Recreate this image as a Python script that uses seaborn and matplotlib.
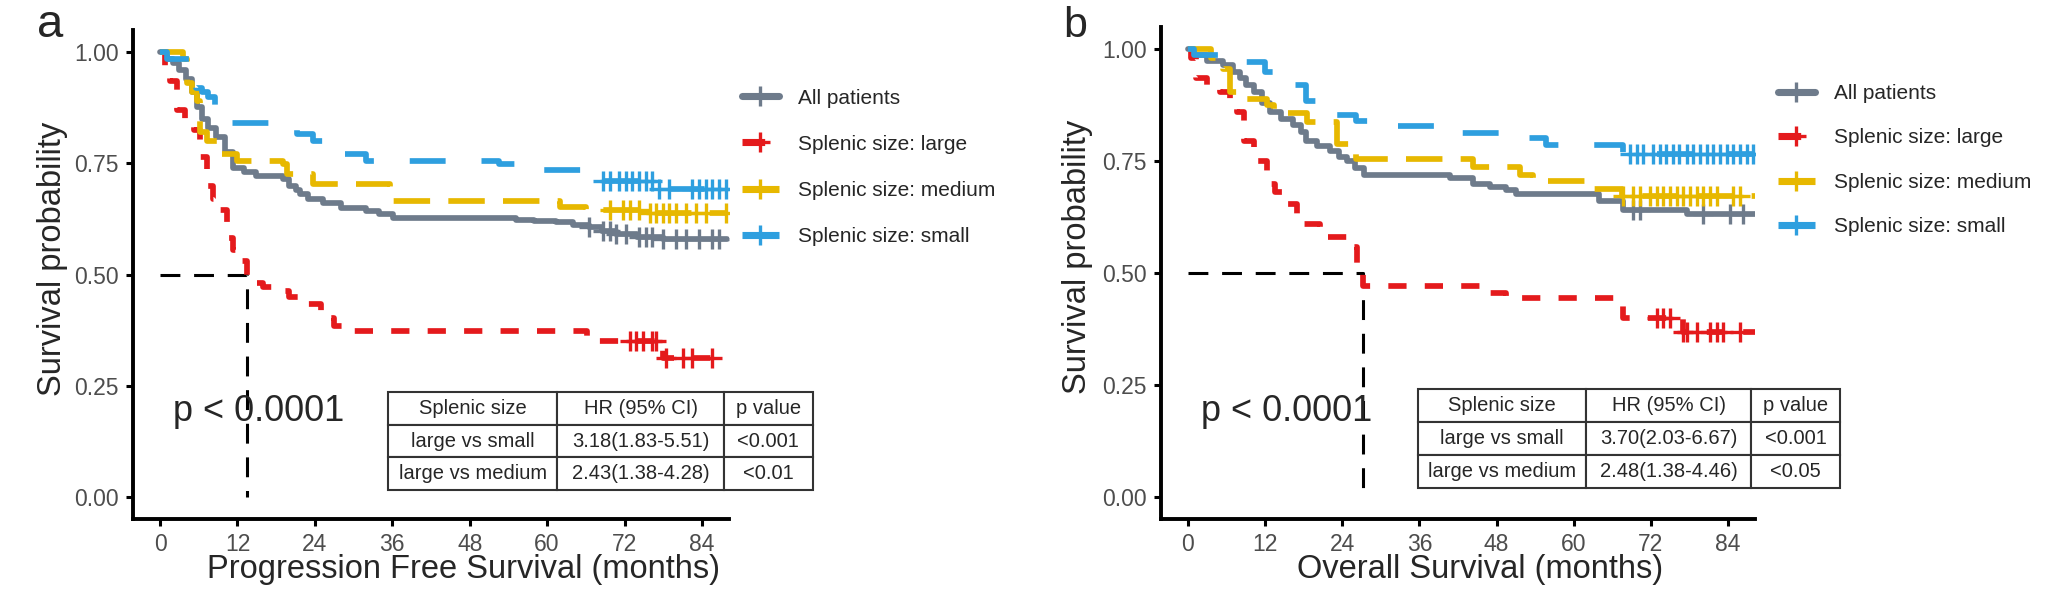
import numpy as np
import pandas as pd
import seaborn as sns
import matplotlib
matplotlib.use("Agg")
import matplotlib.pyplot as plt
from matplotlib.lines import Line2D

# ---- data (months, survival probability) ----
groups = ["All patients", "Splenic size: large", "Splenic size: medium", "Splenic size: small"]
colors = ["#6E7B8B", "#E41A1C", "#E7B800", "#2E9FDF"]

# panel a: progression free survival
pfs_all_t = [0, 1, 2, 3, 4, 5, 5.7, 6.5, 7.5, 8.7, 10, 11.3, 13, 14.9, 19.1, 20, 21, 21.7, 23, 25.2,
             28, 32, 34, 36.1, 55.2, 58, 61.4, 64, 66.5, 68.5, 70.7, 74, 77.9, 87.9]
pfs_all_s = [1.0, 0.985, 0.975, 0.96, 0.94, 0.91, 0.876, 0.85, 0.83, 0.81, 0.775, 0.74, 0.73, 0.722,
             0.715, 0.70, 0.69, 0.68, 0.67, 0.66, 0.65, 0.643, 0.635, 0.628, 0.623, 0.62, 0.617,
             0.612, 0.606, 0.598, 0.59, 0.585, 0.58, 0.58]
pfs_large_t = [0, 0.8, 1.5, 2.6, 3.8, 5.2, 6.2, 7.2, 8.2, 9.3, 10.3, 11.3, 12.4, 13.5, 14.4, 16, 18,
               20, 22.2, 25, 27, 28.9, 66.2, 77.9, 87.2]
pfs_large_s = [1.0, 0.965, 0.936, 0.87, 0.85, 0.824, 0.764, 0.70, 0.67, 0.644, 0.583, 0.555, 0.53,
               0.49, 0.48, 0.472, 0.463, 0.45, 0.433, 0.403, 0.385, 0.373, 0.351, 0.313, 0.313]
pfs_medium_t = [0, 3.5, 4.1, 5.0, 5.7, 6.2, 7.2, 9.3, 11.9, 19.0, 19.6, 23.7, 35.6, 62, 66, 75, 88]
pfs_medium_s = [1.0, 0.985, 0.93, 0.91, 0.89, 0.82, 0.80, 0.77, 0.756, 0.749, 0.726, 0.704, 0.666,
                0.651, 0.645, 0.638, 0.638]
pfs_small_t = [0, 1, 5.5, 6.5, 7.4, 8.5, 10.8, 21.2, 23.7, 27.9, 32, 52.6, 58.8, 67.6, 77.4, 87.9]
pfs_small_s = [1.0, 0.985, 0.92, 0.91, 0.90, 0.875, 0.84, 0.816, 0.80, 0.77, 0.756, 0.749, 0.734,
               0.711, 0.692, 0.692]
pfs_all_cens = [66.5, 68.6, 69.7, 70.7, 72.3, 74.3, 75.4, 76.3, 77.9, 80, 81.6, 83.6, 85.6, 86.7]
pfs_large_cens = [72.8, 73.8, 74.8, 76.3, 76.9, 78.5, 81, 82.5, 85.6]
pfs_medium_cens = [69.7, 71.7, 72.8, 74.3, 75.9, 76.9, 77.9, 78.9, 80, 81.6, 83.1, 84.7, 87.8]
pfs_small_cens = [68.6, 69.7, 71.2, 72.3, 73.2, 74.3, 75.4, 76.3, 77.4, 78.9, 82.5, 83.6, 84.7,
                  85.6, 86.7, 87.8]

# panel b: overall survival
os_all_t = [0, 1, 3, 5.5, 7, 8.1, 9, 10.2, 11.5, 12.8, 14.5, 16.4, 17.5, 18.4, 20, 22.1, 23.5, 24.7,
            26, 27.3, 40.7, 44.3, 47, 49.5, 51, 64, 67.7, 77.6, 88.2]
os_all_s = [1.0, 0.987, 0.975, 0.965, 0.95, 0.935, 0.92, 0.905, 0.88, 0.86, 0.845, 0.832, 0.815,
            0.795, 0.785, 0.773, 0.76, 0.75, 0.735, 0.72, 0.713, 0.70, 0.692, 0.685, 0.677, 0.662,
            0.64, 0.633, 0.633]
os_large_t = [0, 0.5, 1.3, 3, 5, 6.5, 7.6, 8.7, 10.2, 12.3, 13.5, 15.4, 17, 20.5, 24.7, 26.3, 27.2,
              45.9, 49.5, 67.7, 77, 88.5]
os_large_s = [1.0, 0.98, 0.935, 0.92, 0.905, 0.88, 0.86, 0.795, 0.75, 0.70, 0.68, 0.655, 0.61, 0.58,
              0.558, 0.514, 0.47, 0.456, 0.445, 0.40, 0.367, 0.367]
os_medium_t = [0, 3.5, 5.5, 6.5, 9, 12.3, 13.3, 18.5, 23.1, 25.7, 26.2, 44.3, 51.6, 53.7, 61.7,
               67.5, 88.2]
os_medium_s = [1.0, 0.98, 0.955, 0.905, 0.89, 0.876, 0.857, 0.838, 0.788, 0.765, 0.754, 0.736, 0.72,
               0.706, 0.687, 0.672, 0.672]
os_small_t = [0, 1, 6, 12, 14, 16.4, 18.4, 22.6, 26.2, 31.9, 42.3, 52.1, 55.7, 67.7, 88.2]
os_small_s = [1.0, 0.987, 0.972, 0.95, 0.935, 0.92, 0.884, 0.854, 0.84, 0.828, 0.813, 0.802, 0.787,
              0.765, 0.765]
os_all_cens = [69.2, 70.3, 80.1, 84.3, 86.3]
os_large_cens = [72.9, 73.9, 75, 77, 77.6, 79.2, 81.2, 82.3, 83.2, 85.8]
os_medium_cens = [67.7, 69.2, 70.3, 71.8, 72.9, 73.9, 75, 76, 77, 78.1, 79.2, 80.1, 81.2, 82.3,
                  84.8, 85.8]
os_small_cens = [68.7, 69.8, 70.8, 72.3, 73.4, 74.4, 75.4, 76.4, 77.6, 78.5, 79.6, 80.7, 81.6, 82.7,
                 83.8, 84.8, 85.8, 86.9, 87.9]

table_header = ["Splenic size", "HR (95% CI)", "p value"]
pfs_table = [["large vs small", "3.18(1.83-5.51)", "<0.001"],
             ["large vs medium", "2.43(1.38-4.28)", "<0.01"]]
os_table = [["large vs small", "3.70(2.03-6.67)", "<0.001"],
            ["large vs medium", "2.48(1.38-4.46)", "<0.05"]]
pval_text = "p < 0.0001"
x_ticks = [0, 12, 24, 36, 48, 60, 72, 84]
y_ticks = [0.0, 0.25, 0.5, 0.75, 1.0]

# ---- style ----
sns.set_style("ticks")
plt.rcParams["font.family"] = ["Liberation Sans", "DejaVu Sans"]

dash_styles = ["-", (0, (3.2, 3.2)), (0, (6.4, 3.2)), (0, (6.3, 6.3))]
LW = 4.1

fig = plt.figure(figsize=(20.7, 5.91), dpi=100)
ax_a = fig.add_axes([133 / 2070, 72 / 591, 596 / 2070, 489 / 591])
ax_b = fig.add_axes([1161 / 2070, 72 / 591, 594 / 2070, 492 / 591])


def step_value(t, s, x):
    idx = np.searchsorted(t, x, side="right") - 1
    return np.array(s)[idx]


def draw_panel(ax, curves, cens, table_rows, xlabel, label_x, ylab_x, table_bbox, leg_anchor,
               leg_spacing):
    for k, (t, s) in enumerate(curves):
        df = pd.DataFrame({"time": t, "surv": s})
        sns.lineplot(data=df, x="time", y="surv", ax=ax, color=colors[k], lw=LW,
                     linestyle=dash_styles[k], drawstyle="steps-post",
                     estimator=None, sort=False, legend=False)
    for k, (t, s) in enumerate(curves):
        ct = np.array(cens[k])
        cy = step_value(np.array(t), s, ct)
        ax.plot(ct, cy, linestyle="none", marker="+", markersize=14, mew=2.4, color=colors[k])

    # median line of the large-spleen group
    t_large, s_large = curves[1]
    med = [tt for tt, ss in zip(t_large, s_large) if ss <= 0.5][0]
    ax.plot([0, med, med], [0.5, 0.5, 0.0], color="black", lw=2.2,
            linestyle=(0, (6.5, 4.5)), zorder=1)

    ax.text(2.0, 0.17, pval_text, fontsize=26, ha="left", va="baseline")

    ax.set_xlim(-4.2, 88.2)
    ax.set_ylim(-0.05, 1.05)
    ax.set_xticks(x_ticks)
    ax.set_yticks(y_ticks)
    ax.set_yticklabels(["%.2f" % v for v in y_ticks])
    ax.tick_params(axis="both", labelsize=16.5, labelcolor="#4D4D4D", width=2.2,
                   length=5, pad=5, color="black")
    for sp in ["top", "right"]:
        ax.spines[sp].set_visible(False)
    for sp in ["left", "bottom"]:
        ax.spines[sp].set_linewidth(2.8)
        ax.spines[sp].set_color("black")
    ax.set_xlabel(xlabel, fontsize=23.5)
    ax.set_ylabel("Survival probability", fontsize=23.5)
    ax.xaxis.set_label_coords(label_x, -0.072)
    ax.yaxis.set_label_coords(ylab_x, 0.532)

    tb = ax.table(cellText=table_rows, colLabels=table_header, cellLoc="center",
                  bbox=table_bbox, colWidths=[0.398, 0.392, 0.21])
    tb.auto_set_font_size(False)
    tb.set_fontsize(14.5)
    for cell in tb.get_celld().values():
        cell.set_edgecolor("#333333")
        cell.set_linewidth(1.5)
        cell.set_facecolor("white")
    tb.set_zorder(5)

    handles = [Line2D([0], [0], color=colors[k], lw=LW + 1, linestyle=dash_styles[k],
                      marker="+", markersize=14, mew=2.4) for k in range(4)]
    ax.legend(handles, groups, loc="upper left", bbox_to_anchor=leg_anchor, frameon=False,
              fontsize=15, handlelength=1.75, handletextpad=0.95, labelspacing=leg_spacing,
              borderaxespad=0, borderpad=0)


draw_panel(ax_a,
           [(pfs_all_t, pfs_all_s), (pfs_large_t, pfs_large_s),
            (pfs_medium_t, pfs_medium_s), (pfs_small_t, pfs_small_s)],
           [pfs_all_cens, pfs_large_cens, pfs_medium_cens, pfs_small_cens],
           pfs_table, "Progression Free Survival (months)", 0.554, -0.109,
           [0.428, 0.059, 0.713, 0.201], (1.022, 0.88), 1.3)
draw_panel(ax_b,
           [(os_all_t, os_all_s), (os_large_t, os_large_s),
            (os_medium_t, os_medium_s), (os_small_t, os_small_s)],
           [os_all_cens, os_large_cens, os_medium_cens, os_small_cens],
           os_table, "Overall Survival (months)", 0.537, -0.114,
           [0.433, 0.063, 0.71, 0.201], (1.039, 0.884), 1.22)

fig.text(50 / 2070, 1 - 37 / 591, "a", fontsize=34, ha="center", va="baseline")
fig.text(1075 / 2070, 1 - 37 / 591, "b", fontsize=31, ha="center", va="baseline")

fig.savefig("out.png", dpi=100)
